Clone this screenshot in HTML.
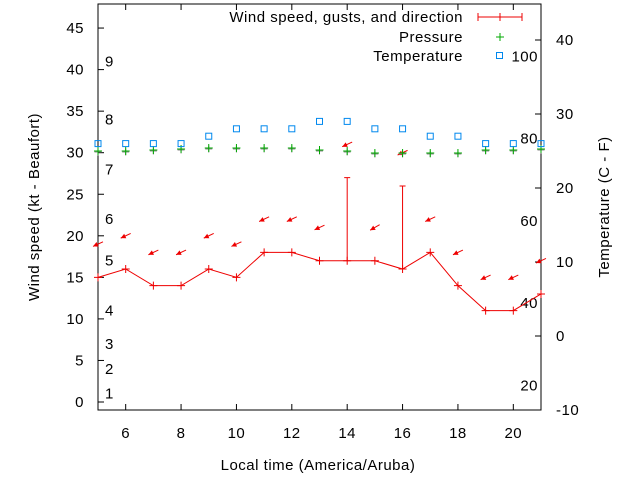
<!DOCTYPE html>
<html><head><meta charset="utf-8"><style>
body{margin:0;background:#fff}
svg{display:block;font-family:"Liberation Sans",sans-serif}
svg text{letter-spacing:0.5px}
</style></head><body>
<svg id="c" width="640" height="480"></svg>
<script>
const hours=[5,6,7,8,9,10,11,12,13,14,15,16,17,18,19,20,21];
const windSpeed=[15,16,14,14,16,15,18,18,17,17,17,16,18,14,11,11,13];
const gusts=[null,null,null,null,null,null,null,null,null,27,null,26,null,null,null,null,null];
const windDir=[65,65,65,65,65,65,65,65,65,65,60,65,65,65,65,65,65];
const pressure=[1012.75,1012.75,1013,1013.25,1013.5,1013.5,1013.5,1013.5,1013,1012.75,1012.25,1012.25,1012.25,1012.25,1013,1013,1013.25];
const tempC=[26,26,26,26,27,28,28,28,29,29,28,28,27,27,26,26,26];
const xTicks=[6,8,10,12,14,16,18,20];
const yTicks=[0,5,10,15,20,25,30,35,40,45];
const y2Ticks=[-10,0,10,20,30,40];
const beaufort=[[1,1],[2,4],[3,7],[4,11],[5,17],[6,22],[7,28],[8,34],[9,41]];
const fLabels=[20,40,60,80,100];

const L=98,R=541,T=4,B=410;
const X=h=>L+(h-5)*(R-L)/16;
const Y=v=>402-v*8.31;
const Y2=c=>336-c*7.4;
const YP=p=>150-(p-1013)*4;
const svg=document.getElementById('c');
const NS='http://www.w3.org/2000/svg';
function mk(t,a,p){const e=document.createElementNS(NS,t);for(const k in a)e.setAttribute(k,a[k]);(p||svg).appendChild(e);return e;}
function txt(s,x,y,anchor,extra){const e=mk('text',Object.assign({x:x,y:y,'font-size':15,fill:'#000','text-anchor':anchor||'start'},extra||{}));e.textContent=s;return e;}

const frame=mk('rect',{x:L,y:T,width:R-L,height:B-T,fill:'none',stroke:'#000','stroke-width':1});



xTicks.forEach(h=>{const x=X(h);
 mk('line',{x1:x,y1:B,x2:x,y2:B-6,stroke:'#000'});mk('line',{x1:x,y1:T,x2:x,y2:T+6,stroke:'#000'});
 const t=txt(h,x,438,'middle');});
yTicks.forEach(v=>{const y=Y(v);
 mk('line',{x1:L,y1:y,x2:L+6,y2:y,stroke:'#000'});
 const t=txt(v,84,y+5,'end');});
y2Ticks.forEach(v=>{const y=Y2(v);
 mk('line',{x1:R,y1:y,x2:R-6,y2:y,stroke:'#000'});
 const t=txt(v,556,y+5,'start');});
beaufort.forEach(b=>{const t=txt(b[0],105,Y(b[1])+5,'start');});
fLabels.forEach(f=>{const t=txt(f,538,Y2((f-32)*5/9)+5,'end');});

let t=txt('Local time (America/Aruba)',318,470,'middle');
t=txt('Wind speed (kt - Beaufort)',0,0,'middle',{transform:'translate(39,207) rotate(-90)'});
t=txt('Temperature (C - F)',0,0,'middle',{transform:'translate(609,207) rotate(-90)'});

// legend
t=txt('Wind speed, gusts, and direction',463,22,'end');
mk('line',{x1:478,y1:17,x2:522,y2:17,stroke:'#e00'});mk('line',{x1:478,y1:13,x2:478,y2:21,stroke:'#e00'});mk('line',{x1:522,y1:13,x2:522,y2:21,stroke:'#e00'});mk('line',{x1:500,y1:13,x2:500,y2:21,stroke:'#e00'});
t=txt('Pressure',463,42,'end');
mk('path',{d:'M496 37h8M500 33v8',stroke:'#0a0',fill:'none'});
t=txt('Temperature',463,61,'end');
mk('rect',{x:496.5,y:52.5,width:6,height:6,fill:'none',stroke:'#08e'});

// wind line
const pl=mk('polyline',{points:hours.map((h,i)=>X(h)+','+Y(windSpeed[i])).join(' '),fill:'none',stroke:'#e00'});

hours.forEach((h,i)=>{const x=X(h),y=Y(windSpeed[i]);
 const m=mk('path',{d:`M${x-4} ${y}h8M${x} ${y-4}v8`,stroke:'#e00',fill:'none'});
 
 let top=windSpeed[i];
 if(gusts[i]!=null){top=gusts[i];const g=mk('path',{d:`M${x} ${y}V${Y(gusts[i])}M${x-3} ${Y(gusts[i])}h6`,stroke:'#e00',fill:'none'});
  }
 const ay=Y(top+4),a=windDir[i]*Math.PI/180,len=11;
 const dx=Math.sin(a)*len,dy=-Math.cos(a)*len;
 const tx=x-dx/2,ty=ay-dy/2,hx=x+dx/2,hy=ay+dy/2;
 const ar=mk('g',{});
 
 mk('line',{x1:hx,y1:hy,x2:tx,y2:ty,stroke:'#e00','stroke-width':1},ar);
 const ux=(tx-hx)/len,uy=(ty-hy)/len,px=-uy,py=ux;
 mk('polygon',{points:`${tx},${ty} ${tx-ux*5+px*2.5},${ty-uy*5+py*2.5} ${tx-ux*5-px*2.5},${ty-uy*5-py*2.5}`,fill:'#e00'},ar);
});
// pressure
hours.forEach((h,i)=>{const x=X(h),y=YP(pressure[i]);
 mk('path',{d:`M${x-3.5} ${y+1}h7M${x} ${y-2.5}v7`,stroke:'#888',fill:'none'});
 const m=mk('path',{d:`M${x-4} ${y}h8M${x} ${y-4}v8`,stroke:'#0a0',fill:'none'});
 });
// temperature
hours.forEach((h,i)=>{const x=X(h),y=Y2(tempC[i]);
 const m=mk('rect',{x:x-3,y:y-3,width:6,height:6,fill:'none',stroke:'#08e'});
 });
</script>
</body></html>
